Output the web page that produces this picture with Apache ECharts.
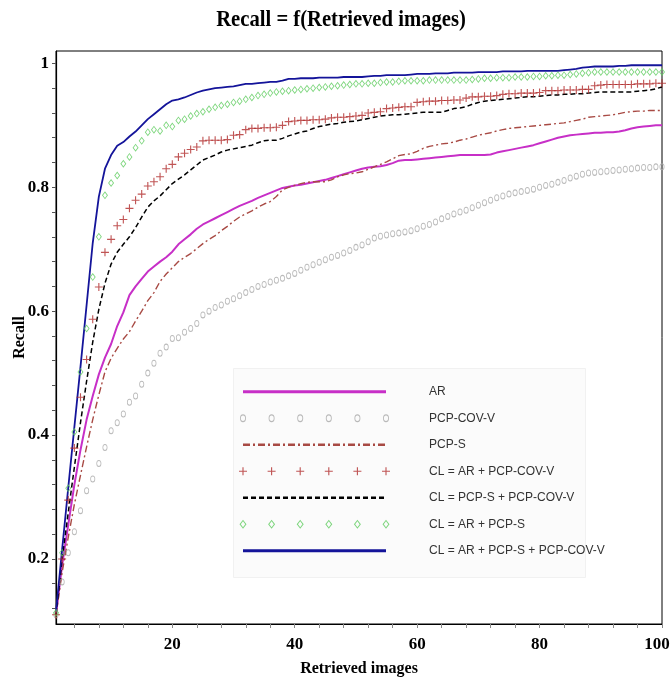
<!DOCTYPE html>
<html>
<head>
<meta charset="utf-8">
<script src="https://cdn.jsdelivr.net/npm/echarts@6/dist/echarts.min.js"></script>
<style>
  html, body { margin: 0; padding: 0; background: #fff; }
  #main { width: 672px; height: 683px; }
</style>
</head>
<body>
<div id="main"></div>
<script>
// x = number of retrieved images (1..100)
const ranks = Array.from({length: 100}, (_, i) => i + 1);

const arRecall = [
  0.11, 0.19, 0.255, 0.32, 0.376, 0.425, 0.463, 0.498, 0.525, 0.547,
  0.576, 0.598, 0.626, 0.64, 0.652, 0.664, 0.672, 0.68, 0.687, 0.696,
  0.708, 0.716, 0.724, 0.733, 0.74, 0.745, 0.75, 0.755, 0.76, 0.765,
  0.77, 0.774, 0.778, 0.783, 0.787, 0.791, 0.795, 0.799, 0.801, 0.803,
  0.804, 0.806, 0.808, 0.81, 0.812, 0.815, 0.818, 0.821, 0.824, 0.827,
  0.83, 0.832, 0.833, 0.834, 0.836, 0.839, 0.843, 0.844, 0.844, 0.845,
  0.846, 0.847, 0.848, 0.849, 0.85, 0.851, 0.852, 0.852, 0.852, 0.852,
  0.852, 0.853, 0.856, 0.858, 0.86, 0.862, 0.864, 0.866, 0.868, 0.871,
  0.874, 0.877, 0.88, 0.882, 0.884, 0.885, 0.886, 0.887, 0.888, 0.888,
  0.889, 0.889, 0.89, 0.892, 0.895, 0.897, 0.898, 0.899, 0.9, 0.9
];

const pcpCovRecall = [
  0.11, 0.163, 0.21, 0.244, 0.278, 0.31, 0.329, 0.354, 0.38, 0.407,
  0.42, 0.434, 0.453, 0.463, 0.482, 0.5, 0.516, 0.532, 0.542, 0.556,
  0.557, 0.566, 0.572, 0.58, 0.594, 0.6, 0.606, 0.61, 0.616, 0.62,
  0.625, 0.63, 0.635, 0.64, 0.643, 0.647, 0.65, 0.653, 0.657, 0.661,
  0.666, 0.671, 0.675, 0.679, 0.683, 0.687, 0.69, 0.694, 0.698, 0.703,
  0.707, 0.712, 0.718, 0.721, 0.723, 0.725, 0.726, 0.728, 0.73, 0.733,
  0.737, 0.74, 0.744, 0.749, 0.753, 0.757, 0.76, 0.763, 0.767, 0.771,
  0.775, 0.779, 0.783, 0.786, 0.789, 0.791, 0.793, 0.795, 0.797, 0.8,
  0.803, 0.805, 0.808, 0.811, 0.815, 0.818, 0.821, 0.823, 0.824, 0.825,
  0.826, 0.827, 0.828, 0.829, 0.83, 0.831, 0.832, 0.832, 0.833, 0.833
];

const pcpSRecall = [
  0.11, 0.178, 0.235, 0.288, 0.335, 0.381, 0.425, 0.465, 0.502, 0.524,
  0.54, 0.555, 0.567, 0.584, 0.6, 0.617, 0.63, 0.648, 0.66, 0.67,
  0.68, 0.687, 0.693, 0.701, 0.709, 0.716, 0.722, 0.73, 0.737, 0.745,
  0.752, 0.757, 0.762, 0.768, 0.773, 0.777, 0.785, 0.796, 0.8, 0.803,
  0.806, 0.808, 0.809, 0.809, 0.809, 0.812, 0.817, 0.82, 0.822, 0.823,
  0.825, 0.829, 0.833, 0.837, 0.841, 0.846, 0.851, 0.853, 0.854, 0.858,
  0.863, 0.866, 0.868, 0.87, 0.871, 0.873, 0.876, 0.878, 0.881, 0.884,
  0.886, 0.888, 0.891, 0.893, 0.895, 0.896, 0.897, 0.898, 0.899, 0.9,
  0.901, 0.902, 0.903, 0.904, 0.906, 0.908, 0.91, 0.913, 0.914, 0.915,
  0.916, 0.917, 0.919, 0.921, 0.922, 0.923, 0.923, 0.924, 0.924, 0.924
];

const clArCovRecall = [
  0.11, 0.20, 0.295, 0.379, 0.461, 0.522, 0.587, 0.639, 0.695, 0.716,
  0.738, 0.748, 0.766, 0.779, 0.789, 0.802, 0.809, 0.817, 0.83, 0.837,
  0.849, 0.855, 0.861, 0.865, 0.875, 0.876, 0.876, 0.876, 0.877, 0.884,
  0.885, 0.893, 0.895, 0.895, 0.896, 0.896, 0.897, 0.9, 0.906, 0.907,
  0.908, 0.908, 0.909, 0.909, 0.91, 0.912, 0.913, 0.913, 0.914, 0.915,
  0.916, 0.92, 0.921, 0.922, 0.927, 0.928, 0.929, 0.93, 0.93, 0.937,
  0.938, 0.939, 0.939, 0.94, 0.94, 0.941, 0.941, 0.944, 0.946, 0.946,
  0.947, 0.947, 0.948, 0.95, 0.951, 0.951, 0.952, 0.952, 0.952, 0.953,
  0.956, 0.956, 0.956, 0.957, 0.957, 0.957, 0.958, 0.958, 0.964, 0.965,
  0.966, 0.966, 0.966, 0.966, 0.966, 0.967, 0.967, 0.967, 0.968, 0.968
];

const clSCovRecall = [
  0.11, 0.20, 0.275, 0.348, 0.42, 0.487, 0.55, 0.603, 0.645, 0.676,
  0.695, 0.708, 0.72, 0.735, 0.752, 0.768, 0.778, 0.786, 0.796, 0.806,
  0.813, 0.82, 0.828, 0.836, 0.844, 0.848, 0.852, 0.857, 0.86, 0.862,
  0.864, 0.866, 0.868, 0.872, 0.875, 0.876, 0.876, 0.879, 0.883, 0.886,
  0.889, 0.891, 0.895, 0.898, 0.9, 0.902, 0.903, 0.905, 0.906, 0.907,
  0.909, 0.911, 0.913, 0.915, 0.916, 0.917, 0.917, 0.918, 0.919, 0.92,
  0.921, 0.921, 0.921, 0.921, 0.924, 0.927, 0.928, 0.93, 0.934, 0.937,
  0.939, 0.94, 0.941, 0.942, 0.943, 0.944, 0.945, 0.946, 0.946, 0.947,
  0.948, 0.949, 0.949, 0.95, 0.95, 0.951, 0.951, 0.952, 0.953, 0.954,
  0.954, 0.954, 0.954, 0.954, 0.954, 0.955, 0.956, 0.957, 0.959, 0.962
];

const clArSRecall = [
  0.113, 0.21, 0.314, 0.405, 0.502, 0.572, 0.655, 0.72, 0.787, 0.807,
  0.819, 0.838, 0.849, 0.864, 0.875, 0.889, 0.893, 0.891, 0.9, 0.898,
  0.908, 0.91, 0.915, 0.919, 0.922, 0.926, 0.929, 0.932, 0.934, 0.937,
  0.939, 0.942, 0.945, 0.948, 0.95, 0.952, 0.954, 0.955, 0.956, 0.957,
  0.958, 0.959, 0.96, 0.961, 0.962, 0.963, 0.964, 0.965, 0.966, 0.967,
  0.967, 0.968, 0.968, 0.969, 0.97, 0.97, 0.971, 0.972, 0.972, 0.972,
  0.972, 0.973, 0.973, 0.973, 0.973, 0.973, 0.973, 0.973, 0.974, 0.975,
  0.976, 0.976, 0.977, 0.977, 0.977, 0.978, 0.978, 0.978, 0.979, 0.979,
  0.98, 0.98, 0.981, 0.981, 0.982, 0.983, 0.984, 0.985, 0.986, 0.986,
  0.986, 0.986, 0.986, 0.986, 0.986, 0.986, 0.986, 0.986, 0.986, 0.986
];

const clAllRecall = [
  0.115, 0.215, 0.315, 0.413, 0.51, 0.61, 0.71, 0.785, 0.83, 0.852,
  0.867, 0.873, 0.882, 0.89, 0.9, 0.91, 0.918, 0.926, 0.934, 0.94,
  0.942, 0.945, 0.949, 0.953, 0.956, 0.958, 0.96, 0.961, 0.962, 0.963,
  0.965, 0.967, 0.967, 0.968, 0.969, 0.97, 0.97, 0.972, 0.975, 0.975,
  0.976, 0.976, 0.976, 0.977, 0.977, 0.977, 0.977, 0.978, 0.978, 0.978,
  0.978, 0.979, 0.98, 0.98, 0.981, 0.981, 0.981, 0.981, 0.982, 0.983,
  0.983, 0.983, 0.984, 0.984, 0.984, 0.985, 0.985, 0.985, 0.985, 0.986,
  0.986, 0.986, 0.986, 0.987, 0.987, 0.987, 0.987, 0.988, 0.988, 0.988,
  0.988, 0.988, 0.988, 0.989, 0.99, 0.991, 0.993, 0.994, 0.995, 0.995,
  0.995, 0.995, 0.996, 0.996, 0.997, 0.997, 0.997, 0.997, 0.997, 0.997
];

const legendNames = [
  'AR',
  'PCP-COV-V',
  'PCP-S',
  'CL = AR + PCP-COV-V',
  'CL = PCP-S + PCP-COV-V',
  'CL = AR + PCP-S',
  'CL = AR + PCP-S + PCP-COV-V'
];

const yLabelValues = [0.2, 0.4, 0.6, 0.8, 1];
const yTickValues = [0.12, 0.16, 0.2, 0.24, 0.28, 0.32, 0.36, 0.4, 0.44, 0.48, 0.52, 0.56,
  0.6, 0.64, 0.68, 0.72, 0.76, 0.8, 0.84, 0.88, 0.92, 0.96, 1];
const xLabelValues = [20, 40, 60, 80, 100];
const xTickValues = [4, 8, 12, 16, 20, 24, 28, 32, 36, 40, 44, 48, 52, 56, 60, 64, 68, 72, 76, 80,
  84, 88, 92, 96, 100];

// sample positions in the legend box
const sampleLine = [0, 1];
const sampleMarks = [0, 0.2, 0.4, 0.6, 0.8, 1];

const chartDom = document.getElementById('main');
const myChart = echarts.init(chartDom, null, {renderer: 'canvas'});

const serif = '"Liberation Serif", "DejaVu Serif", serif';
const narrow = '"Liberation Sans Narrow", "Liberation Sans", sans-serif';
// hollow marks as rings (outer and inner outline wound opposite ways)
const plusPath = 'path://M4.3,0H5.7V4.3H10V5.7H5.7V10H4.3V5.7H0V4.3H4.3Z';
const ringPath = 'path://M5,0A5,5 0 1,1 5,10A5,5 0 1,1 5,0Z M5,1.5A3.5,3.5 0 1,0 5,8.5A3.5,3.5 0 1,0 5,1.5Z';
const diamondPath = 'path://M5,0L10,5L5,10L0,5Z M5,1.8L1.8,5L5,8.2L8.2,5Z';
const dashDot = [7, 3, 2, 3];

const styles = [
  {type: 'line', color: '#c72fc7', width: 2, dash: 'solid', values: arRecall},
  {type: 'scatter', color: '#a9a9a9', symbol: ringPath, size: [5, 7], values: pcpCovRecall},
  {type: 'line', color: '#a84a44', width: 1.4, dash: dashDot, values: pcpSRecall},
  {type: 'scatter', color: '#b02a2a', symbol: plusPath, size: 8, values: clArCovRecall},
  {type: 'line', color: '#000000', width: 1.5, dash: [5, 3], values: clSCovRecall},
  {type: 'scatter', color: '#5ccc5c', symbol: diamondPath, size: [6, 8], values: clArSRecall},
  {type: 'line', color: '#14149a', width: 1.8, dash: 'solid', values: clAllRecall}
];

const series = [];
styles.forEach(function (s, i) {
  const data = s.values.map((v, k) => [ranks[k], v]);
  if (s.type === 'line') {
    series.push({
      name: legendNames[i],
      type: 'line',
      data: data,
      showSymbol: false,
      symbol: 'none',
      silent: true,
      lineStyle: {color: s.color, width: s.width, type: s.dash},
      z: 3
    });
    series.push({
      type: 'line',
      xAxisIndex: 1,
      yAxisIndex: 1,
      data: sampleLine.map(x => [x, legendNames[i]]),
      symbol: 'none',
      silent: true,
      lineStyle: {color: s.color, width: s.width + 1.2, type: s.dash}
    });
  } else {
    series.push({
      name: legendNames[i],
      type: 'scatter',
      data: data,
      symbol: s.symbol,
      symbolSize: s.size,
      silent: true,
      itemStyle: {color: s.color},
      z: 4
    });
    series.push({
      type: 'scatter',
      xAxisIndex: 1,
      yAxisIndex: 1,
      data: sampleMarks.map(x => [x, legendNames[i]]),
      symbol: s.symbol,
      symbolSize: s.size.length ? [s.size[0] + 1, s.size[1] + 1] : s.size,
      silent: true,
      itemStyle: {color: s.color}
    });
  }
});

const xLabelFont = {fontFamily: serif, fontWeight: 'bold', fontSize: 17, color: '#000'};

const option = {
  backgroundColor: '#fff',
  animation: false,
  graphic: [
    {
      type: 'text',
      x: 341,
      y: 20,
      scaleX: 0.86,
      style: {
        text: 'Recall = f(Retrieved images)',
        font: 'bold 24px ' + serif,
        fill: '#000',
        align: 'center',
        verticalAlign: 'middle'
      }
    },
    {
      type: 'rect',
      left: 233,
      top: 368,
      z: 0,
      shape: {width: 352, height: 209},
      style: {fill: '#fbfbfb', stroke: '#f1f1f1', lineWidth: 1}
    }
  ],
  grid: [
    {
      left: 56, right: 10, top: 51, bottom: 59,
      outerBoundsMode: 'none',
      show: true, borderColor: '#000', borderWidth: 1
    },
    {left: 243, width: 143, top: 378.5, height: 185.5, outerBoundsMode: 'none'}
  ],
  xAxis: [
    {
      type: 'value',
      min: 1,
      max: 100,
      name: 'Retrieved images',
      nameLocation: 'middle',
      nameGap: 37,
      nameTextStyle: {fontFamily: serif, fontWeight: 'bold', fontSize: 16, color: '#000'},
      splitLine: {show: false},
      axisLine: {lineStyle: {color: '#000', width: 1.2}},
      axisTick: {show: true, length: 4, customValues: xTickValues, lineStyle: {color: '#888'}},
      axisLabel: Object.assign({
        customValues: xLabelValues,
        margin: 12,
        // keep the last label (100) inside the picture
        formatter: v => (v === 100 ? '{last|100}' : String(v)),
        rich: {last: Object.assign({padding: [0, 10, 0, 0]}, xLabelFont)}
      }, xLabelFont)
    },
    {
      gridIndex: 1,
      type: 'value',
      min: 0,
      max: 1,
      show: false
    }
  ],
  yAxis: [
    {
      type: 'value',
      min: 0.095,
      max: 1.02,
      name: 'Recall',
      nameLocation: 'middle',
      nameGap: 28,
      nameMoveOverlap: false,
      nameRotate: 90,
      nameTextStyle: {fontFamily: serif, fontWeight: 'bold', fontSize: 16, color: '#000'},
      splitLine: {show: false},
      axisLine: {lineStyle: {color: '#000', width: 1.2}},
      axisTick: {show: true, length: 4, customValues: yTickValues, lineStyle: {color: '#555'}},
      axisLabel: {
        customValues: yLabelValues,
        margin: 7,
        fontFamily: serif,
        fontWeight: 'bold',
        fontSize: 17,
        color: '#000',
        formatter: v => (v === 1 ? '1' : v.toFixed(1))
      }
    },
    {
      gridIndex: 1,
      type: 'category',
      data: legendNames,
      inverse: true,
      position: 'right',
      axisLine: {show: false},
      axisTick: {show: false},
      splitLine: {show: false},
      axisLabel: {
        margin: 43,
        align: 'left',
        fontFamily: narrow,
        fontSize: 12,
        color: '#333'
      }
    }
  ],
  series: series
};

option && myChart.setOption(option);
</script>
</body>
</html>
